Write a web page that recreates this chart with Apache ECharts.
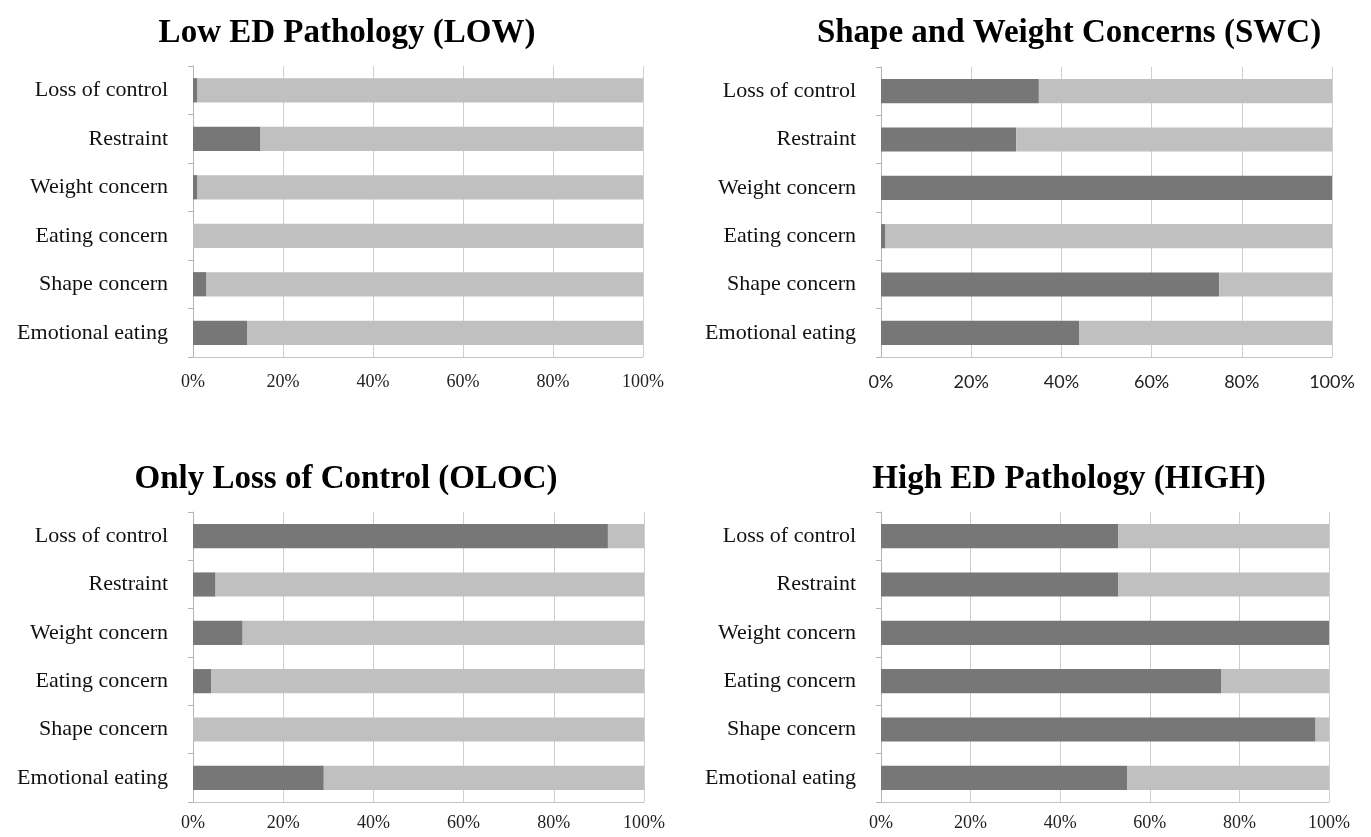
<!DOCTYPE html>
<html>
<head>
<meta charset="utf-8">
<script src="https://cdn.jsdelivr.net/npm/echarts@6/dist/echarts.min.js"></script>
<style>
html,body{margin:0;padding:0;background:#fff;}
#c{width:1371px;height:837px;}
</style>
</head>
<body>
<div id="c"></div>
<script>
// ---- data ----
var categories = ['Loss of control', 'Restraint', 'Weight concern', 'Eating concern', 'Shape concern', 'Emotional eating'];
var titles = ['Low ED Pathology (LOW)', 'Shape and Weight Concerns (SWC)', 'Only Loss of Control (OLOC)', 'High ED Pathology (HIGH)'];
var xTicks = ['0%', '20%', '40%', '60%', '80%', '100%'];

var lowDark   = [1, 15, 1, 0, 3, 12];
var lowLight  = [99, 85, 99, 100, 97, 88];
var swcDark   = [35, 30, 100, 1, 75, 44];
var swcLight  = [65, 70, 0, 99, 25, 56];
var olocDark  = [92, 5, 11, 4, 0, 29];
var olocLight = [8, 95, 89, 96, 100, 71];
var highDark  = [53, 53, 100, 76, 97, 55];
var highLight = [47, 47, 0, 24, 3, 45];

var darkSets = [lowDark, swcDark, olocDark, highDark];
var lightSets = [lowLight, swcLight, olocLight, highLight];

// ---- layout ----
var grids = [
  {left: 193, right: 728, top: 66, bottom: 480},
  {left: 881, right: 39, top: 67, bottom: 480},
  {left: 193, right: 727, top: 512, bottom: 35},
  {left: 881, right: 42, top: 512, bottom: 35}
];
var titlePos = [
  {left: 342, top: 12},
  {left: 1064, top: 12},
  {left: 341, top: 458},
  {left: 1064, top: 458}
];
var tickFonts = ['Liberation Serif', 'Lato', 'Liberation Serif', 'Liberation Serif'];
var tickMargins = [16, 16, 12, 12];

var DARK = '#777777', LIGHT = '#c0c0c0';

var option = {
  backgroundColor: '#fff',
  animation: false,
  title: [],
  grid: [],
  xAxis: [],
  yAxis: [],
  series: []
};

for (var i = 0; i < 4; i++) {
  option.title.push({
    text: titles[i],
    left: titlePos[i].left,
    top: titlePos[i].top,
    textAlign: 'center',
    textStyle: {fontFamily: 'Liberation Serif', fontWeight: 'bold', fontSize: 33, color: '#000'}
  });
  option.grid.push(Object.assign({containLabel: false}, grids[i]));
  option.xAxis.push({
    gridIndex: i,
    type: 'value',
    min: 0,
    max: 100,
    interval: 20,
    axisLine: {show: true, lineStyle: {color: '#c4c4c4', width: 1}},
    axisTick: {show: false},
    splitLine: {show: true, lineStyle: {color: '#cfcfcf', width: 1}},
    axisLabel: {
      margin: tickMargins[i],
      fontFamily: tickFonts[i],
      fontSize: 18,
      color: '#222',
      formatter: function (v) { return xTicks[Math.round(v / 20)]; }
    }
  });
  option.yAxis.push({
    gridIndex: i,
    type: 'category',
    data: categories,
    inverse: true,
    axisLine: {show: true, lineStyle: {color: '#b4b4b4', width: 1}},
    axisTick: {show: true, length: 5, inside: false, lineStyle: {color: '#b4b4b4'}},
    axisLabel: {margin: 25, fontFamily: 'Liberation Serif', fontSize: 22, color: '#111'},
    splitLine: {show: false}
  });
  option.series.push({
    type: 'bar',
    xAxisIndex: i,
    yAxisIndex: i,
    stack: 's' + i,
    barWidth: '50%',
    data: darkSets[i],
    itemStyle: {color: DARK},
    silent: true
  });
  option.series.push({
    type: 'bar',
    xAxisIndex: i,
    yAxisIndex: i,
    stack: 's' + i,
    barWidth: '50%',
    data: lightSets[i],
    itemStyle: {color: LIGHT},
    silent: true
  });
}

var chart = echarts.init(document.getElementById('c'), null, {renderer: 'canvas'});
chart.setOption(option);
</script>
</body>
</html>
